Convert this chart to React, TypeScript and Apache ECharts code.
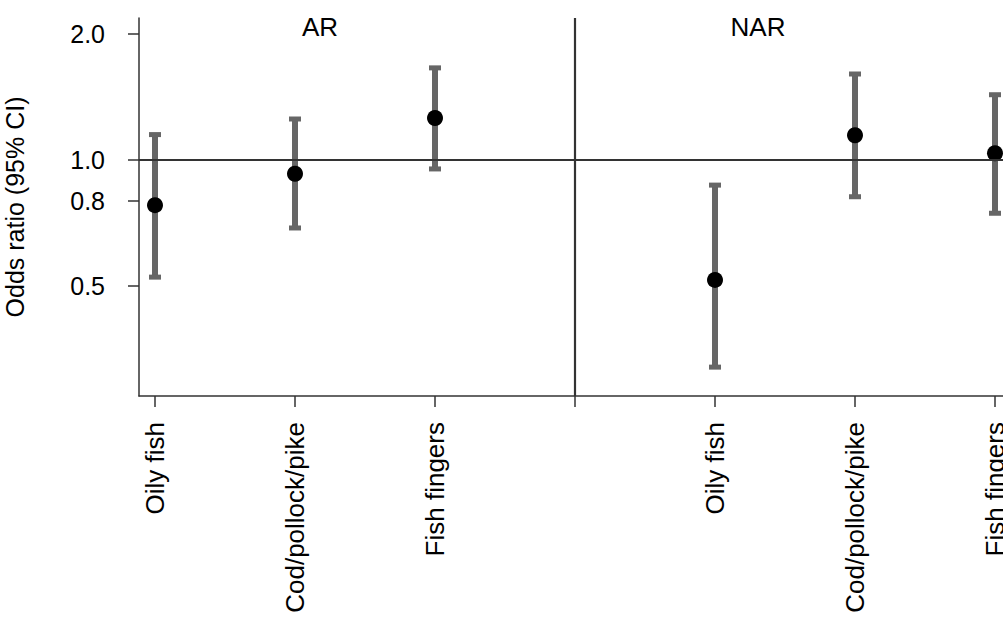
import React, { useEffect, useRef } from "react";
import * as echarts from "echarts";

const groups = ["AR", "NAR"];
const categories = ["Oily fish", "Cod/pollock/pike", "Fish fingers"];
// odds ratios and 95% CI per group, in category order
const estAR = [0.78, 0.927, 1.26];
const lowAR = [0.525, 0.688, 0.952];
const highAR = [1.15, 1.253, 1.66];
const estNAR = [0.517, 1.146, 1.038];
const lowNAR = [0.32, 0.817, 0.746];
const highNAR = [0.871, 1.605, 1.432];
const yTicks = [0.5, 0.8, 1.0, 2.0];
const referenceValue = 1.0;

const FONT = "'Liberation Sans', Arial, Helvetica, sans-serif";

export default function App() {
  const ref = useRef<HTMLDivElement>(null);
  useEffect(() => {
    if (!ref.current) return;
    const chart = echarts.init(ref.current, undefined, { renderer: "svg" });

    const est = [estAR, estNAR];
    const low = [lowAR, lowNAR];
    const high = [highAR, highNAR];
    const points: number[][] = [];
    const bars: number[][] = [];
    const tickPos: number[] = [];
    const labelPos: number[] = [];
    const labelMap: Record<number, string> = {};
    groups.forEach((g, gi) => {
      categories.forEach((c, ci) => {
        const x = gi * 4 + ci + 1;
        points.push([x, est[gi][ci]]);
        bars.push([x, low[gi][ci], high[gi][ci]]);
        labelPos.push(x);
        labelMap[x] = c;
      });
    });
    for (let i = 1; i <= 7; i++) tickPos.push(i);

    const option: any = {
      animation: false,
      backgroundColor: "#ffffff",
      textStyle: { fontFamily: FONT },
      grid: { left: 139, top: 18, right: 0, bottom: 222, containLabel: false, outerBoundsMode: "none" },
      xAxis: {
        type: "value",
        min: 1 - 16 / 140,
        max: 7 + 8 / 140,
        axisLine: { show: true, onZero: false, lineStyle: { color: "#333", width: 1.5 } },
        axisTick: { show: true, length: 11, customValues: tickPos, lineStyle: { color: "#333", width: 1.5 } },
        axisLabel: {
          show: true,
          customValues: labelPos,
          rotate: 90,
          margin: 26,
          fontSize: 26,
          color: "#000",
          fontFamily: FONT,
          formatter: (v: number) => labelMap[Math.round(v)] || "",
        },
        splitLine: { show: false },
      },
      yAxis: {
        type: "log",
        logBase: 2,
        min: 0.273,
        max: 2.184,
        name: "Odds ratio (95% CI)",
        nameLocation: "middle",
        nameGap: 112,
        nameRotate: 90,
        nameTextStyle: { fontSize: 25, color: "#000", fontFamily: FONT },
        axisLine: { show: true, lineStyle: { color: "#333", width: 1.5 } },
        axisTick: { show: true, length: 11, customValues: yTicks, lineStyle: { color: "#333", width: 1.5 } },
        axisLabel: {
          show: true,
          customValues: yTicks,
          margin: 34,
          fontSize: 25,
          color: "#000",
          fontFamily: FONT,
          formatter: (v: number) => Number(v).toFixed(1),
        },
        splitLine: { show: false },
      },
      graphic: [
        { type: "text", x: 320, y: 27, style: { text: groups[0], fontSize: 26, fontFamily: FONT, fill: "#000", textAlign: "center", textVerticalAlign: "middle" } },
        { type: "text", x: 758, y: 27, style: { text: groups[1], fontSize: 26, fontFamily: FONT, fill: "#000", textAlign: "center", textVerticalAlign: "middle" } },
      ],
      series: [
        {
          type: "line",
          data: [],
          z: 1,
          markLine: {
            silent: true,
            symbol: "none",
            label: { show: false },
            lineStyle: { color: "#333", width: 2.2, type: "solid" },
            data: [{ yAxis: referenceValue }, { xAxis: 4 }],
          },
        },
        {
          type: "custom",
          z: 2,
          clip: false,
          data: bars,
          renderItem: (params: any, api: any) => {
            const x = api.value(0);
            const lo = api.coord([x, api.value(1)]);
            const hi = api.coord([x, api.value(2)]);
            const capW = 12;
            const capH = 5;
            return {
              type: "group",
              children: [
                { type: "line", shape: { x1: lo[0], y1: lo[1], x2: hi[0], y2: hi[1] }, style: { stroke: "#666", lineWidth: 6 } },
                { type: "rect", shape: { x: hi[0] - capW / 2, y: hi[1] - capH / 2, width: capW, height: capH }, style: { fill: "#666" } },
                { type: "rect", shape: { x: lo[0] - capW / 2, y: lo[1] - capH / 2, width: capW, height: capH }, style: { fill: "#666" } },
              ],
            };
          },
        },
        {
          type: "scatter",
          z: 3,
          clip: false,
          symbol: "circle",
          symbolSize: 16,
          itemStyle: { color: "#000", opacity: 1 },
          data: points,
        },
      ],
    };
    chart.setOption(option);
    return () => chart.dispose();
  }, []);
  return (
    <div
      ref={ref}
      style={{ position: "fixed", left: 0, top: 0, width: 1003, height: 618, background: "#fff" }}
    />
  );
}
